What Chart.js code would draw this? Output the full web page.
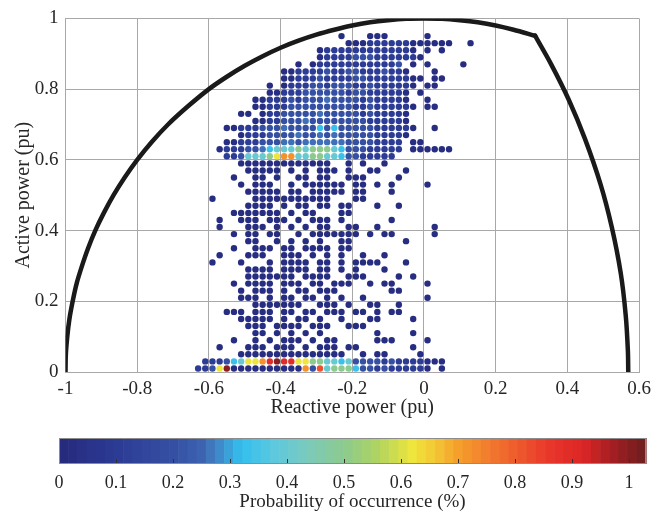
<!DOCTYPE html>
<html>
<head>
<meta charset="utf-8">
<script src="https://cdn.jsdelivr.net/npm/chart.js@4.4.0/dist/chart.umd.min.js"></script>
<style>
    html, body { margin: 0; padding: 0; background: #fff; }
    #wrap { position: relative; width: 665px; height: 514px; }
    #mainChart { position: absolute; left: 0; top: 0; }
    #barChart { position: absolute; left: 0; top: 424px; }
</style>
</head>
<body>
<div id="wrap">
    <canvas id="mainChart" width="665" height="424"></canvas>
    <canvas id="barChart" width="665" height="90"></canvas>
</div>
<script>
// =====================
// DATA
// =====================
// bin centres (reactive power, columns) and (active power, rows top->bottom)
const qBins = [-0.63, -0.61, -0.59, -0.57, -0.55, -0.53, -0.51, -0.49, -0.47, -0.45,
    -0.43, -0.41, -0.39, -0.37, -0.35, -0.33, -0.31, -0.29, -0.27, -0.25,
    -0.23, -0.21, -0.19, -0.17, -0.15, -0.13, -0.11, -0.09, -0.07, -0.05,
    -0.03, -0.01, 0.01, 0.03, 0.05, 0.07, 0.09, 0.11, 0.13];
const pBins = [0.95, 0.93, 0.91, 0.89, 0.87, 0.85, 0.83, 0.81, 0.79, 0.77,
    0.75, 0.73, 0.71, 0.69, 0.67, 0.65, 0.63, 0.61, 0.59, 0.57,
    0.55, 0.53, 0.51, 0.49, 0.47, 0.45, 0.43, 0.41, 0.39, 0.37,
    0.35, 0.33, 0.31, 0.29, 0.27, 0.25, 0.23, 0.21, 0.19, 0.17,
    0.15, 0.13, 0.11, 0.09, 0.07, 0.05, 0.03, 0.01];

// one string per row of pBins, one char per column of qBins ("." = no sample)
const gridRows = [
    ".......... .......... 0...000... ..0......",
    ".......... .......... .000111111 000000..0",
    ".......... .......011 1111111111 0.0.0....",
    ".......... .......011 1122211111 10.......",
    ".......... ....0.0111 111111112. 0.0....0.",
    ".......... ..00111121 1221112110 ...0.....",
    ".......... ..00111211 1122111111 00.00....",
    ".......... 0.01112212 2211211111 0.00.....",
    ".......... 0011122222 2122111110 .0.......",
    "........00 1112122232 2221211110 ..0......",
    "........00 1112222222 2211211111 0.00.....",
    "......00.0 1122222322 2221211110 .........",
    "........00 1122232222 2222111110 .........",
    "....001112 2232222c2c 2222211111 0..0.....",
    "......0111 2222322323 2222211110 .........",
    "....001112 2233233333 322221111. 00.......",
    "...0111223 c444545554 c22211111. 000000...",
    "....112444 5677445544 c2211111.. .........",
    "......0000 000000000. .0.0..0... .........",
    ".......000 00.0.0.000 .0..00...0 .........",
    ".....0..00 .0..00.00. .000....0. .........",
    "......0.00 0..0.00000 0.00.0.0.. ..0......",
    ".......000 00.00.0000 0.00...0.. .........",
    "..0.....00 000000000. ..00...... .........",
    ".......000 0.0.00.00. 00...0..0. .........",
    ".....00000 00.0.00... 00........ .........",
    "...0..000. 000.0.000. 0......0.. .........",
    "...0...000 .0.0.0.00. .00..0.... ...0.....",
    ".....0.00. 00..0.0000 000.0.00.. ...0.....",
    ".......00. .0.0.0.0.. 00.......0 .........",
    ".....0..00 0.00.0000. 00........ .........",
    "...0...000 ..000.0.0. 0..0..0... .........",
    "..0...0... 0.0000.00. 0.0000...0 .........",
    ".......000 0.0000.00. 0.0...0... .........",
    ".......000 0000.0000. .000....0. 0........",
    ".....0.000 0.000.00.0 00..0.00.. ..0......",
    "......0.00 0.0.00.000 .......00. .........",
    "......000. 0.00.00.0. 0..0...... ..0......",
    "........00 00000..000 .0..00..0. .........",
    "....000.00 0.00.00.00 0.00.0.00. .........",
    "......0000 0.0.00.0.. 0...00.... 0........",
    ".......000 .0000.000. .000...... .........",
    "........00 .0.0.0.0.. .....0.... 0........",
    ".....0..0. 0.000.0.00 .....000.. ..0......",
    "...0...000 .000.0.000 .00....... 0........",
    "......0000 0000000000 0..0.00... .0.......",
    ".1112c4667 9X99665544 c422221211 11000....",
    "1126X00000 0000072845 55c2212111 110.0...."
];

// probability of occurrence (%) for each char used in gridRows
const levelKeys = ["0", "1", "2", "3", "c", "4", "5", "6", "7", "8", "9", "X"];
const levelProbs = [0.02, 0.1, 0.2, 0.26, 0.33, 0.4, 0.5, 0.62, 0.72, 0.82, 0.9, 1.0];

// capability curve: circular arc up to the corner, then the right-hand limit
const arcQ = [-1, -0.999, -0.995, -0.989, -0.98, -0.969, -0.954, -0.937, -0.917, -0.893,
    -0.866, -0.835, -0.8, -0.76, -0.714, -0.66, -0.6, -0.55, -0.5, -0.45,
    -0.4, -0.35, -0.3, -0.25, -0.2, -0.15, -0.1, -0.05, 0, 0.05,
    0.1, 0.15, 0.2, 0.25, 0.31];
const arcP = [0, 0.05, 0.1, 0.15, 0.2, 0.25, 0.3, 0.35, 0.4, 0.45,
    0.5, 0.55, 0.6, 0.65, 0.7, 0.75, 0.8, 0.835, 0.866, 0.893,
    0.917, 0.937, 0.954, 0.968, 0.98, 0.989, 0.995, 0.999, 1, 0.999,
    0.995, 0.989, 0.98, 0.968, 0.951];
const limQ = [0.31, 0.355, 0.404, 0.449, 0.493, 0.524, 0.549, 0.563, 0.569, 0.57];
const limP = [0.951, 0.87, 0.77, 0.66, 0.53, 0.41, 0.28, 0.16, 0.06, 0];

const xTicks = [-1, -0.8, -0.6, -0.4, -0.2, 0, 0.2, 0.4, 0.6];
const yTicks = [0, 0.2, 0.4, 0.6, 0.8, 1];
const barTicks = [0, 0.1, 0.2, 0.3, 0.4, 0.5, 0.6, 0.7, 0.8, 0.9, 1];
const barMax = 1.03;

// colour map stops (as on the colour bar)
const cmapStops = [0, 0.1, 0.2, 0.25, 0.28, 0.32, 0.38, 0.44, 0.5, 0.56,
    0.62, 0.66, 0.7, 0.78, 0.86, 0.92, 0.97, 1.03];
const cmapColors = ["#262a7c", "#2c3b94", "#3550a3", "#3d62b0", "#4088c8", "#33c0ee",
    "#5ec8de", "#7ccab8", "#8dca8f", "#b0d460", "#eee63c", "#f4c634",
    "#f5a02c", "#f06a2e", "#e8362a", "#dc2626", "#a41e22", "#6b1e1e"];

// =====================
// HELPERS
// =====================
function hexToRgb(h) {
    return [parseInt(h.slice(1, 3), 16), parseInt(h.slice(3, 5), 16), parseInt(h.slice(5, 7), 16)];
}

function cmap(v) {
    if (v <= cmapStops[0]) return cmapColors[0];
    for (let i = 1; i < cmapStops.length; i++) {
        if (v <= cmapStops[i]) {
            let t = (v - cmapStops[i - 1]) / (cmapStops[i] - cmapStops[i - 1]);
            let a = hexToRgb(cmapColors[i - 1]);
            let b = hexToRgb(cmapColors[i]);
            let c = a.map((x, k) => Math.round(x + (b[k] - x) * t));
            return `rgb(${c[0]},${c[1]},${c[2]})`;
        }
    }
    return cmapColors[cmapColors.length - 1];
}

function tickLabel(v) {
    return String(Number(v.toFixed(2)));
}

// =====================
// BUILD POINTS
// =====================
let dots = [];
let dotColors = [];
gridRows.forEach((row, r) => {
    row.replace(/ /g, "").split("").forEach((ch, k) => {
        let li = levelKeys.indexOf(ch);
        if (li < 0) return;
        dots.push({ x: qBins[k], y: pBins[r] });
        dotColors.push(cmap(levelProbs[li]));
    });
});

let arcCurve = arcQ.map((q, i) => ({ x: q, y: arcP[i] }));
let limCurve = limQ.map((q, i) => ({ x: q, y: limP[i] }));

Chart.defaults.font.family = "'Liberation Serif', 'Times New Roman', serif";
Chart.defaults.color = "#262626";

const gridColor = "#a8a8a8";
const curveStyle = {
    showLine: true,
    borderColor: "#1a1a1a",
    borderWidth: 4.5,
    pointRadius: 0,
    tension: 0.3,
    borderCapStyle: "round",
    borderJoinStyle: "round"
};

// =====================
// MAIN CHART
// =====================
new Chart(document.getElementById("mainChart"), {
    type: "scatter",
    data: {
        datasets: [
            Object.assign({ label: "Capability arc", data: arcCurve }, curveStyle),
            Object.assign({ label: "Capability limit", data: limCurve }, curveStyle),
            {
                label: "Samples",
                data: dots,
                pointRadius: 3.2,
                pointBorderWidth: 0,
                pointBackgroundColor: dotColors,
                pointHoverRadius: 3.2
            }
        ]
    },
    options: {
        responsive: false,
        animation: false,
        events: [],
        layout: { padding: { left: 0, right: 26, top: 14, bottom: 0 } },
        plugins: { legend: { display: false }, tooltip: { enabled: false } },
        scales: {
            x: {
                type: "linear",
                min: -1,
                max: 0.6,
                afterBuildTicks: s => { s.ticks = xTicks.map(v => ({ value: v })); },
                afterFit: s => { s.height = 52; },
                grid: { color: gridColor, drawTicks: false },
                border: { color: gridColor },
                ticks: { padding: 6, font: { size: 19 }, maxRotation: 0, callback: tickLabel },
                title: {
                    display: true,
                    text: "Reactive power (pu)",
                    font: { size: 20 },
                    padding: { top: 0, bottom: 4 }
                }
            },
            y: {
                type: "linear",
                min: 0,
                max: 1,
                afterBuildTicks: s => { s.ticks = yTicks.map(v => ({ value: v })); },
                afterFit: s => { s.width = 65.5; },
                grid: { color: gridColor, drawTicks: false },
                border: { color: gridColor },
                ticks: { padding: 7, font: { size: 19 }, callback: tickLabel },
                title: {
                    display: true,
                    text: "Active power (pu)",
                    font: { size: 20 },
                    padding: { top: 12, bottom: 0 }
                }
            }
        }
    }
});

// =====================
// COLOUR BAR
// =====================
const colorbarFill = {
    id: "colorbarFill",
    beforeDatasetsDraw(chart) {
        const { ctx, chartArea: a } = chart;
        const xs = chart.scales.x;
        const bands = 64;
        ctx.save();
        for (let i = 0; i < bands; i++) {
            let v0 = barMax * i / bands;
            let v1 = barMax * (i + 1) / bands;
            let x0 = xs.getPixelForValue(v0);
            let x1 = xs.getPixelForValue(v1);
            ctx.fillStyle = cmap((v0 + v1) / 2);
            ctx.fillRect(x0, a.top, x1 - x0 + 0.6, a.bottom - a.top);
        }
        // small ticks inside the bar
        ctx.strokeStyle = "#333";
        ctx.lineWidth = 1;
        barTicks.forEach(v => {
            let px = Math.round(xs.getPixelForValue(v)) + 0.5;
            ctx.beginPath();
            ctx.moveTo(px, a.bottom);
            ctx.lineTo(px, a.bottom - 5);
            ctx.stroke();
        });
        ctx.strokeStyle = "#8c8c8c";
        ctx.strokeRect(a.left + 0.5, a.top + 0.5, a.right - a.left - 1, a.bottom - a.top - 1);
        ctx.restore();
    }
};

new Chart(document.getElementById("barChart"), {
    type: "scatter",
    data: { datasets: [{ data: [] }] },
    options: {
        responsive: false,
        animation: false,
        events: [],
        layout: { padding: { left: 59, right: 19, top: 14, bottom: 0 } },
        plugins: { legend: { display: false }, tooltip: { enabled: false } },
        scales: {
            x: {
                type: "linear",
                min: 0,
                max: barMax,
                afterBuildTicks: s => { s.ticks = barTicks.map(v => ({ value: v })); },
                afterFit: s => { s.height = 50; },
                grid: { display: false, drawTicks: false },
                border: { display: false },
                ticks: { padding: 8, font: { size: 18 }, maxRotation: 0, callback: tickLabel },
                title: {
                    display: true,
                    text: "Probability of occurrence (%)",
                    font: { size: 19 },
                    padding: { top: 0, bottom: 1 }
                }
            },
            y: { display: false, min: 0, max: 1 }
        }
    },
    plugins: [colorbarFill]
});
</script>
</body>
</html>
